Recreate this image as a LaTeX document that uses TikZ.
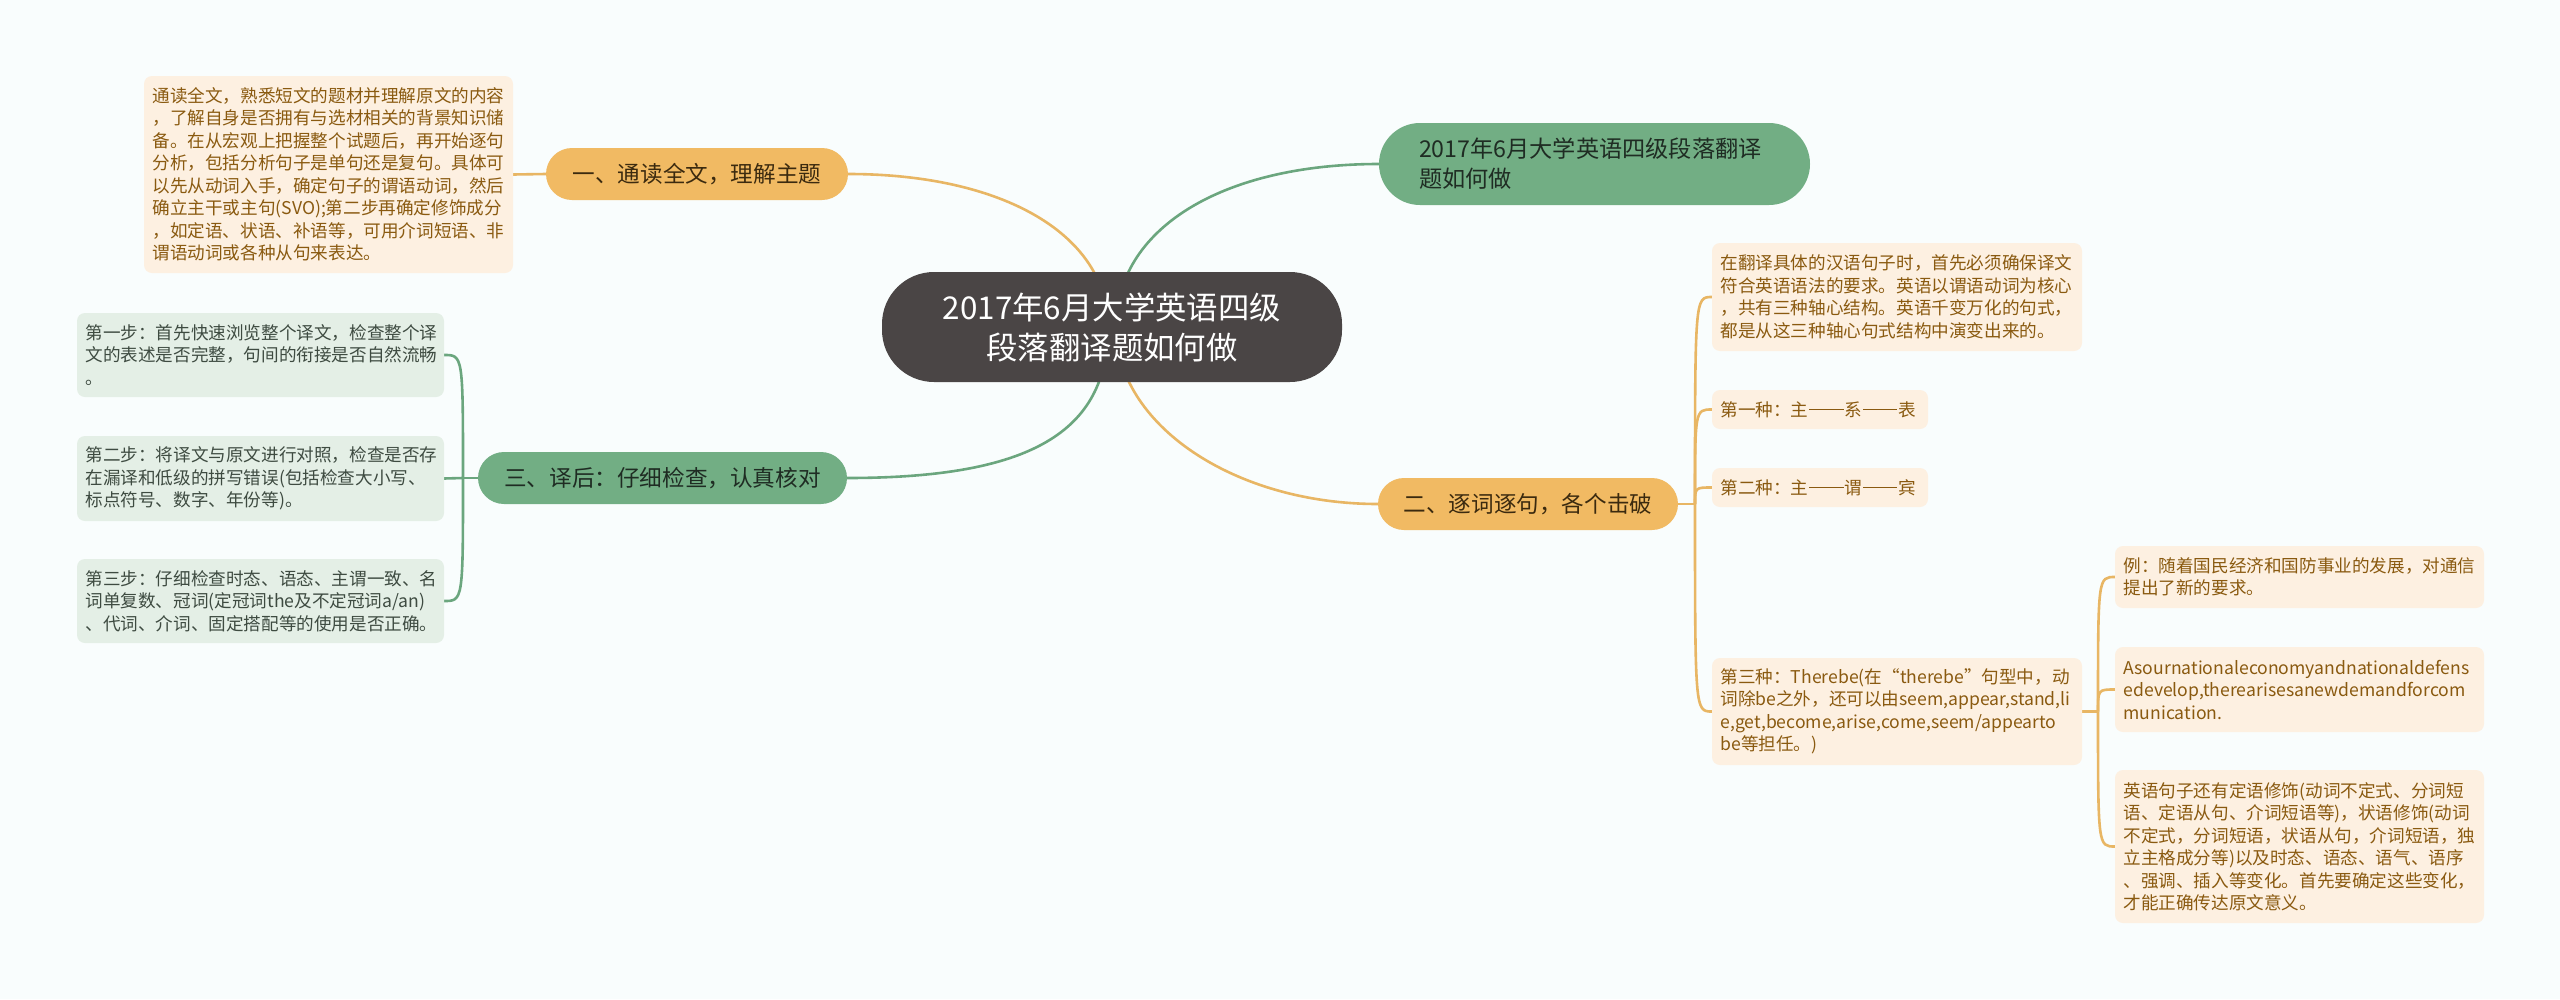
\documentclass[tikz,border=0pt]{standalone}
\usepackage{fontspec}
\setmainfont{Noto Sans CJK SC}
\usetikzlibrary{calc}
\pgfdeclarelayer{bg}
\pgfdeclarelayer{edges}
\pgfsetlayers{bg,edges,main}
\definecolor{bgc}{HTML}{F9FDFD}
\definecolor{rootfill}{HTML}{4A4545}
\definecolor{onodefill}{HTML}{F1BA63}
\definecolor{onodetext}{HTML}{3B2A0F}
\definecolor{gnodefill}{HTML}{72AE84}
\definecolor{gnodetext}{HTML}{1F2C23}
\definecolor{oleaffill}{HTML}{FDF0E1}
\definecolor{oleaftext}{HTML}{8A5A10}
\definecolor{gleaffill}{HTML}{E4EFE6}
\definecolor{gleaftext}{HTML}{3E4B41}
\definecolor{olinec}{HTML}{E8B664}
\definecolor{glinec}{HTML}{6BA67E}
\hyphenpenalty=10000
\exhyphenpenalty=10000
\newcommand{\longdash}{\kern0.05em\rule[0.36em]{1.95em}{0.07em}\kern0.05em}
\begin{document}
\begin{tikzpicture}[x=1pt,y=-1pt,
  every node/.style={inner sep=0pt, outer sep=0pt},
  pill/.style={rounded corners=26pt, minimum height=52pt, font=\fontsize{22.6}{28}\selectfont, align=center},
  onode/.style={pill, fill=onodefill, text=onodetext},
  gnode/.style={pill, fill=gnodefill, text=gnodetext},
  leafbase/.style={rounded corners=8pt, anchor=north west, align=left, inner xsep=8.5pt, inner ysep=0pt, font=\fontsize{17.6}{22.5}\selectfont},
  oleaf/.style={leafbase, fill=oleaffill, text=oleaftext},
  gleaf/.style={leafbase, fill=gleaffill, text=gleaftext},
  oline/.style={draw=olinec, line width=2.6pt},
  gline/.style={draw=glinec, line width=2.6pt},
]
\useasboundingbox (0,0) rectangle (2560,999);
\begin{pgfonlayer}{bg}
\fill[bgc] (0,0) rectangle (2560,999);
\end{pgfonlayer}

% root
\node[fill=rootfill, text=white, rounded corners=52pt, minimum width=460pt, minimum height=110pt, align=center, font=\fontsize{31.4}{40}\selectfont] (root) at (1112,327) {2017年6月大学英语四级\\段落翻译题如何做};

% top green
\node[gnode, rounded corners=41pt, minimum height=82pt, text width=351pt, inner xsep=40pt, align=left, font=\fontsize{23.2}{30}\selectfont] (g) at (1594.5,164) {2017年6月大学英语四级段落翻译\\题如何做};

% main branches
\node[onode, minimum width=302pt] (n1) at (697,174) {一、通读全文，理解主题};
\node[gnode, minimum width=369pt] (n3) at (662.5,478) {三、译后：仔细检查，认真核对};
\node[onode, minimum width=300pt] (n2) at (1528,504) {二、逐词逐句，各个击破};

% leaf of n1
\node[oleaf, text width=352pt, minimum height=197pt] (l1) at (144,76) {通读全文，熟悉短文的题材并理解原文的内容\\，了解自身是否拥有与选材相关的背景知识储\\备。在从宏观上把握整个试题后，再开始逐句\\分析，包括分析句子是单句还是复句。具体可\\以先从动词入手，确定句子的谓语动词，然后\\确立主干或主句(SVO);第二步再确定修饰成分\\，如定语、状语、补语等，可用介词短语、非\\谓语动词或各种从句来表达。};

% leaves of n3
\node[gleaf, text width=350pt, minimum height=84pt] (s1) at (77,313) {第一步：首先快速浏览整个译文，检查整个译\\文的表述是否完整，句间的衔接是否自然流畅\\。};
\node[gleaf, text width=350pt, minimum height=85pt] (s2) at (77,436) {第二步：将译文与原文进行对照，检查是否存\\在漏译和低级的拼写错误(包括检查大小写、\\标点符号、数字、年份等)。};
\node[gleaf, text width=350pt, minimum height=84pt] (s3) at (77,559) {第三步：仔细检查时态、语态、主谓一致、名\\词单复数、冠词(定冠词the及不定冠词a/an)\\、代词、介词、固定搭配等的使用是否正确。};

% leaves of n2
\node[oleaf, text width=353pt, minimum height=108pt] (a) at (1712,243) {在翻译具体的汉语句子时，首先必须确保译文\\符合英语语法的要求。英语以谓语动词为核心\\，共有三种轴心结构。英语千变万化的句式，\\都是从这三种轴心句式结构中演变出来的。};
\node[oleaf, text width=199pt, minimum height=39pt] (b) at (1712,390) {第一种：主\longdash 系\longdash 表};
\node[oleaf, text width=199pt, minimum height=39pt] (c) at (1712,468) {第二种：主\longdash 谓\longdash 宾};
\node[oleaf, text width=353pt, minimum height=107pt] (d) at (1712,658) {第三种：Therebe(在“therebe”句型中，动\\词除be之外，还可以由seem,appear,stand,li\\e,get,become,arise,come,seem/appearto\\be等担任。)};

% leaves of d
\node[oleaf, text width=352pt, minimum height=62pt] (e1) at (2115,546) {例：随着国民经济和国防事业的发展，对通信\\提出了新的要求。};
\node[oleaf, text width=352pt, minimum height=85pt] (e2) at (2115,647) {Asournationaleconomyandnationaldefens\\edevelop,therearisesanewdemandforcom\\munication.};
\node[oleaf, text width=352pt, minimum height=153pt] (e3) at (2115,770) {英语句子还有定语修饰(动词不定式、分词短\\语、定语从句、介词短语等)，状语修饰(动词\\不定式，分词短语，状语从句，介词短语，独\\立主格成分等)以及时态、语态、语气、语序\\、强调、插入等变化。首先要确定这些变化，\\才能正确传达原文意义。};

% connectors
\begin{pgfonlayer}{edges}
\coordinate (rl) at ($(root.center)+(-4,0)$);
\coordinate (rr) at ($(root.center)+(4,0)$);
\draw[oline] (n1.east) .. controls ($(n1.east)!0.6!(n1.east -| rl)$) and ($(rl)!0.6!(rl |- n1.east)$) .. (rl);
\draw[gline] (g.west) .. controls ($(g.west)!0.6!(g.west -| rr)$) and ($(rr)!0.6!(rr |- g.west)$) .. (rr);
\draw[gline] (n3.east) .. controls ($(n3.east)!0.7!(n3.east -| rl)$) and ($(rl)!0.7!(rl |- n3.east)$) .. (rl);
\draw[oline] (n2.west) .. controls ($(n2.west)!0.55!(n2.west -| rr)$) and ($(rr)!0.55!(rr |- n2.west)$) .. (rr);

\draw[oline] (l1.east) -- (n1.west);

\coordinate (n3j) at ($(n3.west)+(-15,0)$);
\draw[gline] (n3.west) -- (n3j);
\draw[gline] (n3j) .. controls (n3j |- s1.east) and (n3j |- s1.east) .. (s1.east);
\draw[gline] (n3j) -- (s2.east);
\draw[gline] (n3j) .. controls (n3j |- s3.east) and (n3j |- s3.east) .. (s3.east);

\coordinate (n2j) at ($(n2.east)+(17,0)$);
\draw[oline] (n2.east) -- (n2j);
\foreach \t in {a,b,c,d}{
  \draw[oline] (n2j) .. controls (n2j |- \t.west) and (n2j |- \t.west) .. (\t.west);
}

\coordinate (dj) at ($(d.east)+(16,0)$);
\draw[oline] (d.east) -- (dj);
\foreach \t in {e1,e2,e3}{
  \draw[oline] (dj) .. controls (dj |- \t.west) and (dj |- \t.west) .. (\t.west);
}
\end{pgfonlayer}
\end{tikzpicture}
\end{document}
